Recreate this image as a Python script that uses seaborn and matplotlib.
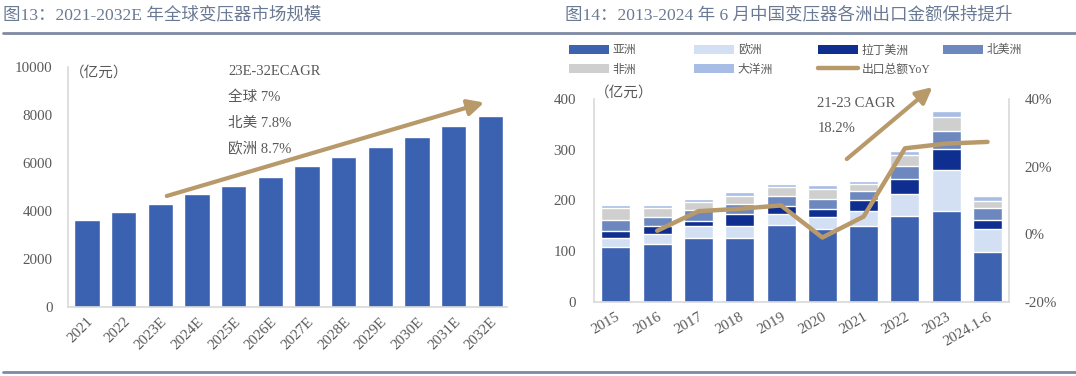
import numpy as np
import pandas as pd
import matplotlib
matplotlib.use("Agg")
import matplotlib.pyplot as plt
import seaborn as sns
from matplotlib.patches import Patch
from matplotlib.lines import Line2D

# ---------------- data ----------------
years_left = ['2021', '2022', '2023E', '2024E', '2025E', '2026E', '2027E',
              '2028E', '2029E', '2030E', '2031E', '2032E']
market_size = [3600, 3950, 4300, 4680, 5050, 5400, 5850, 6240, 6640, 7080, 7510, 7950]

years_right = ['2015', '2016', '2017', '2018', '2019', '2020', '2021', '2022', '2023', '2024.1-6']
asia = [107, 113, 125, 125, 152, 143, 149, 170, 179, 97.5]
europe = [18, 20.5, 24, 24, 21, 24, 30, 42, 81, 46]
latam = [15, 15.5, 10, 24, 15, 15, 21, 29.5, 41, 17.5]
north_america = [21, 18, 21, 20.5, 20.5, 20.5, 18, 27, 35.5, 24.5]
africa = [23, 17, 17.5, 15, 17.5, 19.5, 14.5, 21, 28, 14]
oceania = [7, 7, 5.5, 8.5, 6, 7.5, 6.5, 8.5, 11, 9.5]
yoy_pct = [np.nan, 1.0, 6.8, 7.5, 8.5, -1.0, 5.2, 25.4, 26.8, 27.3]

series_names = ['亚洲', '欧洲', '拉丁美洲', '北美洲', '非洲', '大洋洲']
series_vals = [asia, europe, latam, north_america, africa, oceania]
series_colors = ['#3c62b0', '#d3dff3', '#0e2f8f', '#6d88bf', '#cfcfcf', '#a7bde6']

# ---------------- style ----------------
sns.set_theme(style='white')
plt.rcParams['font.family'] = ['Liberation Serif', 'Noto Sans CJK SC']
plt.rcParams['axes.unicode_minus'] = False

BLUE = '#3a62b0'
GOLD = '#b8996a'
TXT = '#595959'
SPINE = '#d9d9d9'
TITLE = '#6b7a94'
W, H = 1076, 376
TICK_FS = 10.8
ANN_FS = 10.5

fig = plt.figure(figsize=(W / 100, H / 100), dpi=100)

# ---------------- left chart ----------------
ax1 = fig.add_axes([68 / W, 1 - 306.7 / H, (507 - 68) / W, 240 / H])
df1 = pd.DataFrame({'year': years_left, 'value': market_size})
sns.barplot(data=df1, x='year', y='value', color=BLUE, saturation=1, width=0.69, ax=ax1)
ax1.set_xlim(-0.52, 11.45)
ax1.set_ylim(0, 10000)
ax1.set_yticks(range(0, 10001, 2000))
ax1.set_xlabel('')
ax1.set_ylabel('')
ax1.set_xticks(range(len(years_left)))
ax1.set_xticklabels(years_left, rotation=45, ha='right', rotation_mode='anchor')
ax1.tick_params(axis='both', length=0, labelsize=TICK_FS, labelcolor=TXT)
ax1.tick_params(axis='y', pad=11)
ax1.tick_params(axis='x', pad=6)
for s in ['top', 'right']:
    ax1.spines[s].set_visible(False)
for s in ['left', 'bottom']:
    ax1.spines[s].set_color(SPINE)
    ax1.spines[s].set_linewidth(1.2)
ax1.text(-0.46, 9740, '（亿元）', fontsize=ANN_FS, color=TXT, va='center', ha='left')
ax1.annotate('', xy=(10.9, 8540), xytext=(2.1, 4580),
             arrowprops=dict(arrowstyle='-|>,head_length=0.8,head_width=0.4', color=GOLD, lw=3),
             annotation_clip=False)
for txt, yv in [('23E-32ECAGR', 9790), ('全球 7%', 8740), ('北美 7.8%', 7650), ('欧洲 8.7%', 6570)]:
    ax1.text(3.84, yv, txt, fontsize=ANN_FS, color=TXT, va='center', ha='left')

# ---------------- right chart ----------------
ax2 = fig.add_axes([594 / W, 1 - 301.7 / H, (1009 - 594) / W, 202.7 / H])
cum = np.cumsum(np.array(series_vals, dtype=float), axis=0)
for i in range(len(series_names) - 1, -1, -1):
    dfi = pd.DataFrame({'year': years_right, 'value': cum[i]})
    sns.barplot(data=dfi, x='year', y='value', color=series_colors[i], saturation=1,
                width=0.70, ax=ax2)
ax2.set_xlim(-0.53, 9.52)
ax2.set_ylim(0, 400)
ax2.set_yticks(range(0, 401, 100))
ax2.set_xlabel('')
ax2.set_ylabel('')

ax3 = ax2.twinx()
sns.lineplot(x=np.arange(len(years_right)), y=np.array(yoy_pct) / 100.0, color=GOLD,
             lw=3.2, ax=ax3)
ax3.set_ylim(-0.196, 0.40)
ax3.set_yticks([-0.2, 0, 0.2, 0.4])
ax3.set_yticklabels(['-20%', '0%', '20%', '40%'])
ax3.set_ylabel('')
ax3.tick_params(axis='y', length=0, labelsize=TICK_FS, labelcolor=TXT, pad=11)

ax2.set_xlim(-0.53, 9.52)
ax2.set_xticks(range(len(years_right)))
ax2.set_xticklabels(years_right, rotation=30, ha='right', rotation_mode='anchor')
ax2.tick_params(axis='both', length=0, labelsize=TICK_FS, labelcolor=TXT)
ax2.tick_params(axis='y', pad=13)
ax2.tick_params(axis='x', pad=6)

for a in (ax2, ax3):
    a.spines['top'].set_visible(False)
ax2.spines['right'].set_visible(False)
ax3.spines['left'].set_visible(False)
ax3.spines['bottom'].set_visible(False)
ax3.spines['right'].set_color(SPINE)
ax3.spines['right'].set_linewidth(1.2)
for s in ['left', 'bottom']:
    ax2.spines[s].set_color(SPINE)
    ax2.spines[s].set_linewidth(1.2)

ax2.text(-0.5, 412, '（亿元）', fontsize=ANN_FS, color=TXT, va='center', ha='left', clip_on=False)
ax2.annotate('', xy=(7.72, 427), xytext=(5.54, 278),
             arrowprops=dict(arrowstyle='-|>,head_length=0.8,head_width=0.4', color=GOLD, lw=3),
             annotation_clip=False)
ax2.text(4.88, 391, '21-23 CAGR', fontsize=ANN_FS, color=TXT, va='center', ha='left')
ax2.text(4.88, 342, '18.2%', fontsize=ANN_FS, color=TXT, va='center', ha='left')

# legend: 4 columns of 2 rows
handles = [Patch(facecolor=c, edgecolor='none') for c in series_colors]
yoy_handle = Line2D([0], [0], color=GOLD, lw=3.2)
cols = [
    ([handles[0], handles[4]], ['亚洲', '非洲'], 569),
    ([handles[1], handles[5]], ['欧洲', '大洋洲'], 694),
    ([handles[2], yoy_handle], ['拉丁美洲', '出口总额YoY'], 818),
    ([handles[3]], ['北美洲'], 943),
]
for hs, ls, x0 in cols:
    fig.legend(hs, ls, loc='upper left', bbox_to_anchor=(x0 / W, 1 - 44.5 / H),
               frameon=False, fontsize=8.5, handlelength=3.4, handleheight=0.7,
               handletextpad=0.3, labelspacing=0.6, borderpad=0, borderaxespad=0,
               labelcolor=TXT)

# ---------------- titles and rules ----------------
fig.text(3 / W, 1 - 15 / H, '图13：2021-2032E 年全球变压器市场规模', fontsize=12.6,
         color=TITLE, va='center', ha='left')
fig.text(565 / W, 1 - 15 / H, '图14：2013-2024 年 6 月中国变压器各洲出口金额保持提升', fontsize=12.6,
         color=TITLE, va='center', ha='left')
fig.add_artist(Line2D([3 / W, 1], [1 - 32.5 / H] * 2, color='#7d8aa4', lw=2,
                      transform=fig.transFigure))
fig.add_artist(Line2D([3 / W, 1], [1 - 371.5 / H] * 2, color='#7d8aa4', lw=2,
                      transform=fig.transFigure))

fig.savefig('out.png', dpi=100, facecolor='white')
